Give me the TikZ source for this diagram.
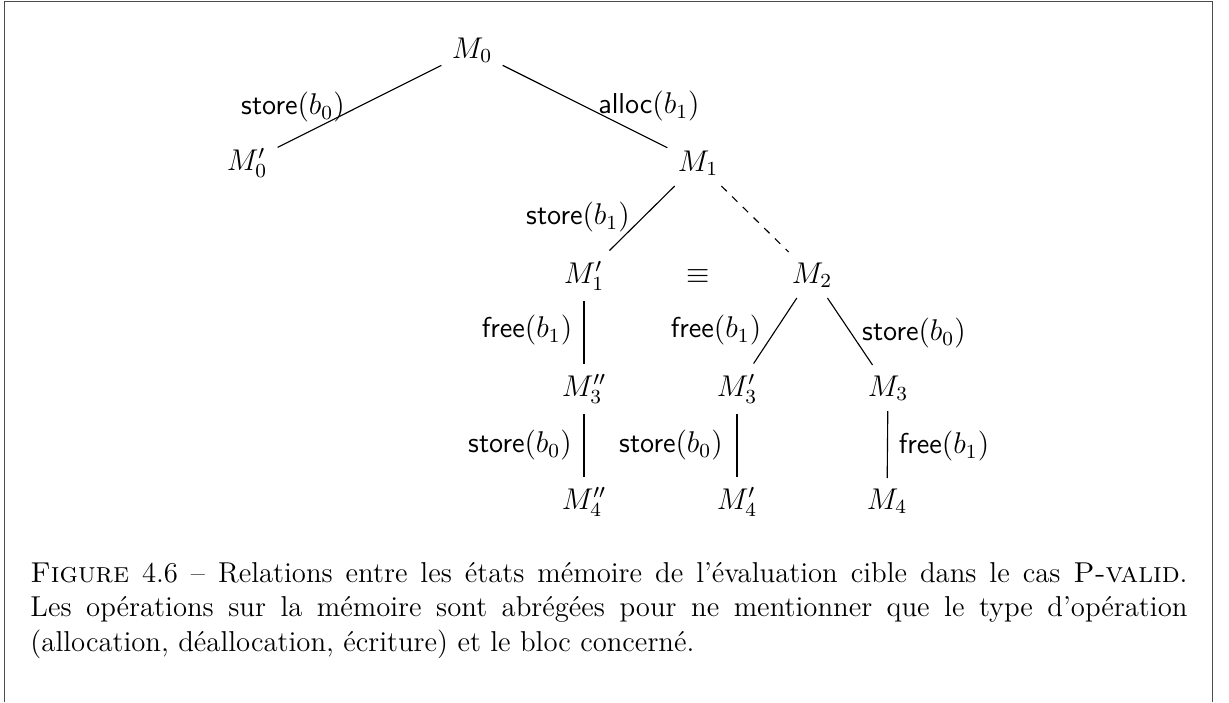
\documentclass[tikz,border=0pt]{standalone}
\begin{document}
\begin{tikzpicture}[x=0.4pt,y=-0.4pt,
  st/.style={inner sep=4pt, anchor=base, font=\fontsize{11.5}{13.6}\selectfont},
  lab/.style={inner sep=0pt, font=\fontsize{11.5}{13.6}\selectfont},
  conn/.style={line width=0.45pt},
  captxt/.style={inner sep=0pt, anchor=base west, font=\fontsize{11.5}{13.6}\selectfont},
  frame/.style={line width=0.6pt, black!70}]
\useasboundingbox (0,0) rectangle (1229,702);
\draw[frame] (4.5,702) -- (4.5,1.5) -- (1212.5,1.5) -- (1212.5,702);
% states
\node[st] (m0)   at (472,58)  {$M_0$};
\node[st] (m0p)  at (247,170) {$M'_0$};
\node[st] (m1)   at (698,171) {$M_1$};
\node[st] (m1p)  at (584,283) {$M'_1$};
\node[st] (eq)   at (698,283) {$\equiv$};
\node[st] (m2)   at (812,283) {$M_2$};
\node[st] (m3pp) at (584,396) {$M''_3$};
\node[st] (m3p)  at (737,396) {$M'_3$};
\node[st] (m3)   at (888,396) {$M_3$};
\node[st] (m4pp) at (584,509) {$M''_4$};
\node[st] (m4p)  at (737,509) {$M'_4$};
\node[st] (m4)   at (887,509) {$M_4$};
% connectors
\draw[conn] (m0) -- (m0p);
\draw[conn] (m0) -- (m1);
\draw[conn] (m1) -- (m1p);
\draw[conn, dashed] (m1) -- (m2);
\draw[conn] (m1p) -- (m3pp);
\draw[conn] (m2) -- (m3p);
\draw[conn] (m2) -- (m3);
\draw[conn] (m3pp) -- (m4pp);
\draw[conn] (m3p) -- (m4p);
\draw[conn] (m3) -- (m4);
% labels
\node[lab] (l1) at (293,107) {\textsf{store}$(b_0)$};
\node[lab] (l2) at (649,106) {\textsf{alloc}$(b_1)$};
\node[lab] (l3) at (578,217) {\textsf{store}$(b_1)$};
\node[lab] (l4) at (527,330) {\textsf{free}$(b_1)$};
\node[lab] (l5) at (716,330) {\textsf{free}$(b_1)$};
\node[lab] (l6) at (914,333) {\textsf{store}$(b_0)$};
\node[lab] (l7) at (520,445) {\textsf{store}$(b_0)$};
\node[lab] (l8) at (671,445) {\textsf{store}$(b_0)$};
\node[lab] (l9) at (944,446) {\textsf{free}$(b_1)$};
% caption
\node[captxt] (c1) at (30,582) {\makebox[462.8pt][s]{\textsc{Figure} 4.6 – Relations entre les états mémoire de l’évaluation cible dans le cas \textsc{P-valid}.}};
\node[captxt] (c2) at (30,616.5) {\makebox[462.8pt][s]{Les opérations sur la mémoire sont abrégées pour ne mentionner que le type d’opération}};
\node[captxt] (c3) at (30,651) {(allocation, déallocation, écriture) et le bloc concerné.};
\end{tikzpicture}
\end{document}
